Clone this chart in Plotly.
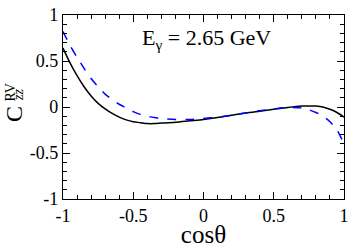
import plotly.graph_objects as go

cos_theta = [-1, -0.95, -0.9, -0.85, -0.8, -0.75, -0.7, -0.65, -0.6, -0.55, -0.5, -0.45, -0.4, -0.35, -0.3,
             -0.2, -0.1, 0, 0.1, 0.2, 0.3, 0.4, 0.5, 0.6, 0.7, 0.75, 0.8, 0.85, 0.9, 0.95, 1.0]
c_solid = [0.64, 0.48, 0.34, 0.22, 0.12, 0.04, -0.02, -0.07, -0.11, -0.14, -0.16, -0.17, -0.18, -0.18, -0.175,
           -0.165, -0.15, -0.135, -0.115, -0.09, -0.065, -0.045, -0.025, -0.005, 0.01, 0.012, 0.01, 0.0, -0.025, -0.06, -0.11]
c_dashed = [0.82, 0.67, 0.54, 0.42, 0.31, 0.22, 0.14, 0.08, 0.03, -0.01, -0.05, -0.08, -0.10, -0.115, -0.125,
            -0.135, -0.135, -0.125, -0.11, -0.09, -0.065, -0.04, -0.02, -0.005, -0.01, -0.03, -0.06, -0.10, -0.16, -0.25, -0.40]
tick_vals = [-1, -0.5, 0, 0.5, 1]
tick_text = ["-1", "-0.5", "0", "0.5", "1"]

FONT = "Liberation Serif"

fig = go.Figure()
fig.add_trace(go.Scatter(x=cos_theta, y=c_solid, mode="lines",
                         line=dict(color="black", width=1.5, shape="spline", smoothing=0.8), showlegend=False))
fig.add_trace(go.Scatter(x=cos_theta, y=c_dashed, mode="lines",
                         line=dict(color="blue", width=1.5, dash="dash", shape="spline", smoothing=0.8), showlegend=False))

axis_common = dict(
    showgrid=False, zeroline=False, showline=True, linecolor="black", linewidth=1.2,
    mirror="allticks", ticks="inside", ticklen=7, tickwidth=1, tickcolor="black",
    tickvals=tick_vals, ticktext=tick_text, ticklabeloverflow="allow",
    tickfont=dict(family=FONT, size=18, color="black"),
    minor=dict(ticks="inside", ticklen=4, dtick=0.1, tickcolor="black", tickwidth=1, showgrid=False),
)

fig.update_layout(
    width=354, height=248,
    margin=dict(l=63, r=5, t=8, b=41),
    paper_bgcolor="white", plot_bgcolor="white",
    font=dict(family=FONT, color="black"),
    xaxis=dict(range=[-1, 1], title=dict(text="cos\u03b8", font=dict(family=FONT, size=25), standoff=0), **axis_common),
    yaxis=dict(range=[-1, 1], **axis_common),
)

fig.add_annotation(text="E<sub>\u03b3</sub> = 2.65 GeV", xref="paper", yref="paper", x=0.51, y=0.955,
                   xanchor="center", yanchor="top", showarrow=False,
                   font=dict(family=FONT, size=22, color="black"))
# y-axis title C^RV_zz built from rotated pieces
fig.add_annotation(text="C", xref="paper", yref="paper", x=-0.172, y=0.46, xanchor="center", yanchor="middle",
                   showarrow=False, textangle=-90, font=dict(family=FONT, size=24, color="black"))
fig.add_annotation(text="RV", xref="paper", yref="paper", x=-0.188, y=0.52, xanchor="center", yanchor="bottom",
                   showarrow=False, textangle=-90, font=dict(family=FONT, size=14, color="black"))
fig.add_annotation(text="<i>zz</i>", xref="paper", yref="paper", x=-0.158, y=0.52, xanchor="center", yanchor="bottom",
                   showarrow=False, textangle=-90, font=dict(family=FONT, size=14, color="black"))

fig.write_html("out.html", config={"displayModeBar": False},
               post_script="document.body.style.margin='0';document.body.style.overflow='hidden';")
